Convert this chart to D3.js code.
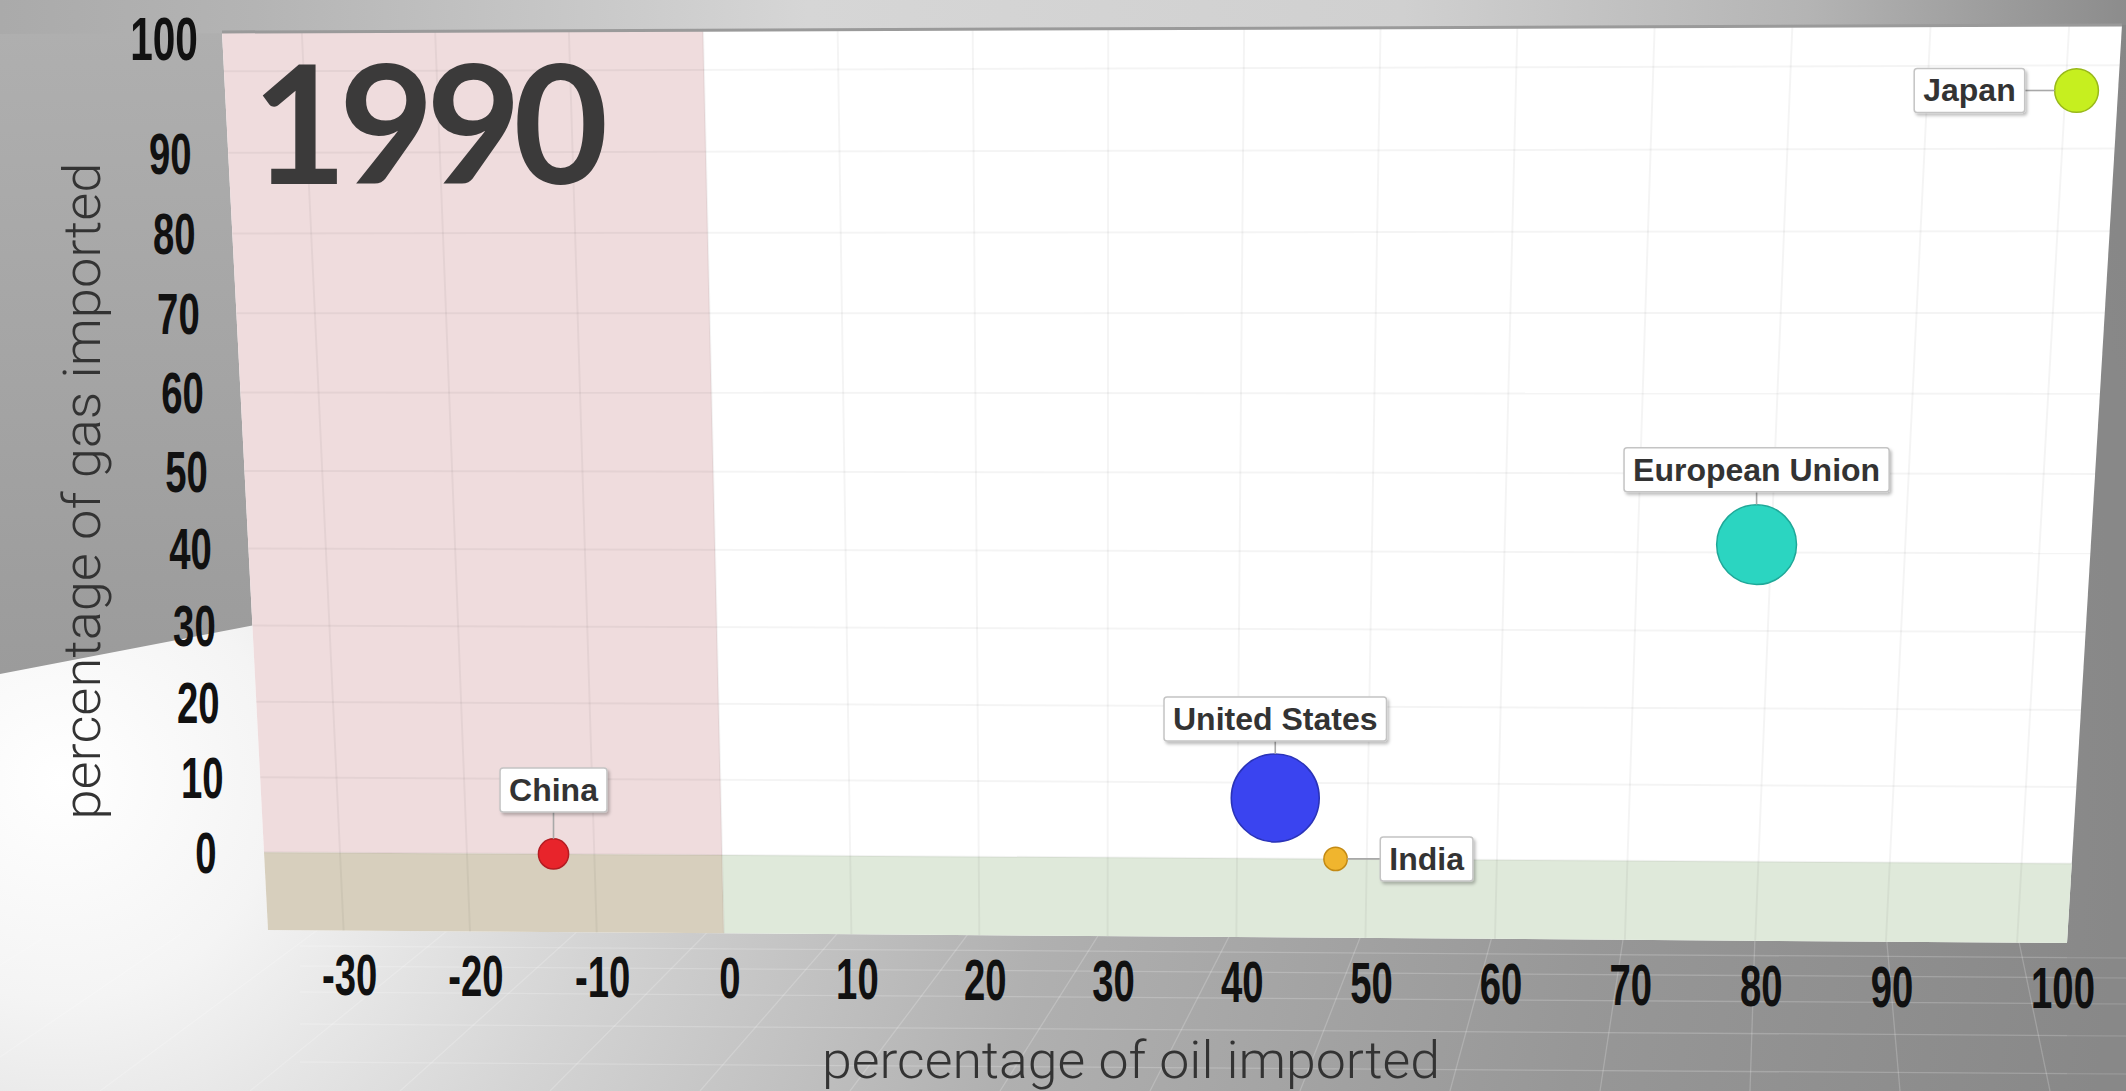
<!DOCTYPE html>
<html><head><meta charset="utf-8">
<script src="https://cdn.jsdelivr.net/npm/d3@7"></script>
<style>html,body{margin:0;padding:0;overflow:hidden;background:#a0a0a0}</style>
</head><body>
<svg id="c" width="2126" height="1091"></svg>
<script>
// ---------- data ----------
const countries   = ["China", "United States", "India", "European Union", "Japan"];
const oilImported = [-13.2, 42.9, 47.6, 78.9, 100.8];  // x: % of oil imported
const gasImported = [0, 8, 0, 41, 97];                 // y: % of gas imported
const bubbleSize  = [2.0, 17.0, 1.2, 14.0, 4.2];       // bubble size
const colors      = ["#e8242b", "#3a44f0", "#f0b52e", "#2bd5c1", "#c6ef1f"];
const strokes     = ["#b31c22", "#2a33b8", "#c38a14", "#1fa898", "#98b81a"];
const labelSide   = ["top", "top", "right", "top", "left"];
const xTicks = [-30, -20, -10, 0, 10, 20, 30, 40, 50, 60, 70, 80, 90, 100];
const yTicks = [0, 10, 20, 30, 40, 50, 60, 70, 80, 90, 100];
const yearLabel = "1990";
const xTitle = "percentage of oil imported";
const yTitle = "percentage of gas imported";

// ---------- setup ----------
const W = 2126, H = 1091;
const svg = d3.select("#c");
const defs = svg.append("defs");

const xDomain = [-36, 103.8], yDomain = [-10.5, 104.8];
const quad = [[222, 32], [2122, 25], [2067, 943], [268, 930]]; // TL TR BR BL of the tilted panel
const u = d3.scaleLinear().domain(xDomain).range([0, 1]);
const v = d3.scaleLinear().domain(yDomain).range([1, 0]);
function homography(q) {
  const [x0, y0] = q[0], [x1, y1] = q[1], [x2, y2] = q[2], [x3, y3] = q[3];
  const dx1 = x1 - x2, dx2 = x3 - x2, dx3 = x0 - x1 + x2 - x3;
  const dy1 = y1 - y2, dy2 = y3 - y2, dy3 = y0 - y1 + y2 - y3;
  const den = dx1 * dy2 - dx2 * dy1;
  const g = (dx3 * dy2 - dx2 * dy3) / den, h = (dx1 * dy3 - dx3 * dy1) / den;
  const a = x1 - x0 + g * x1, b = x3 - x0 + h * x3, c = x0;
  const d = y1 - y0 + g * y1, e = y3 - y0 + h * y3, f = y0;
  return (s, t) => { const w = g * s + h * t + 1; return [(a * s + b * t + c) / w, (d * s + e * t + f) / w]; };
}
const Hm = homography(quad);
const P = (x, y) => Hm(u(x), v(y));
const poly = (xa, xb, ya, yb) => [P(xa, yb), P(xb, yb), P(xb, ya), P(xa, ya)].map(p => p.join(",")).join(" ");

// ---------- gradients ----------
const rad = defs.append("radialGradient").attr("id", "bgRad").attr("gradientUnits", "userSpaceOnUse")
  .attr("cx", 60).attr("cy", 780).attr("r", 2200);
[[0, "#ffffff"], [0.1, "#f4f4f4"], [0.25, "#d4d4d4"], [0.45, "#b0b0b0"], [0.7, "#979797"], [1, "#848484"]]
  .forEach(([o, c]) => rad.append("stop").attr("offset", o).attr("stop-color", c));
const lg = defs.append("linearGradient").attr("id", "leftG").attr("x1", 0).attr("y1", 0).attr("x2", 0).attr("y2", 1);
[[0, "#b0b0b0"], [1, "#9b9b9b"]].forEach(([o, c]) => lg.append("stop").attr("offset", o).attr("stop-color", c));
const tg = defs.append("linearGradient").attr("id", "topG").attr("x1", 0).attr("y1", 0).attr("x2", 1).attr("y2", 0);
[[0, "#aaaaaa"], [0.12, "#b4b4b4"], [0.38, "#d6d6d6"], [0.66, "#d0d0d0"], [0.85, "#b4b4b4"], [1, "#8c8c8c"]]
  .forEach(([o, c]) => tg.append("stop").attr("offset", o).attr("stop-color", c));
const sh = defs.append("filter").attr("id", "shadow").attr("x", "-20%").attr("y", "-30%").attr("width", "140%").attr("height", "170%");
sh.append("feDropShadow").attr("dx", 2).attr("dy", 2.5).attr("stdDeviation", 1.6).attr("flood-color", "#000").attr("flood-opacity", 0.25);

// ---------- background ----------
const bg = svg.append("g");
bg.append("rect").attr("width", W).attr("height", H).attr("fill", "url(#bgRad)");
defs.append("clipPath").attr("id", "floorClip").append("polygon")
  .attr("points", [[0, 940], quad[3], quad[2], [W, 900], [W, H], [0, H]].map(p => p.join(",")).join(" "));
const floor = bg.append("g").attr("clip-path", "url(#floorClip)").attr("stroke", "rgba(255,255,255,0.2)").attr("stroke-width", 1.3);
const vp = [1790, -160];
d3.range(-1400, 5200, 150).forEach(bx => {
  floor.append("line").attr("x1", vp[0]).attr("y1", vp[1]).attr("x2", bx).attr("y2", H);
});
[952, 972, 998, 1030, 1068].forEach(y => {
  floor.append("line").attr("x1", 300).attr("y1", y - 6).attr("x2", W).attr("y2", y + 6);
});
bg.append("polygon").attr("points", "0,0 320,0 320,618 255,625 0,674").attr("fill", "url(#leftG)");
bg.append("polygon").attr("points", `0,0 ${W},0 ${W},25 0,34`).attr("fill", "url(#topG)");
bg.append("polygon").attr("points", `${quad[1].join(",")} ${W},25 ${W},${H} ${quad[2][0]},${H} ${quad[2].join(",")}`).attr("fill", "#8a8a8a").attr("opacity", 0.4);

// ---------- panel ----------
const panel = svg.append("g");
panel.append("polygon").attr("points", poly(xDomain[0], xDomain[1], yDomain[0], yDomain[1])).attr("fill", "#ffffff");
panel.append("polygon").attr("points", poly(xDomain[0], 0, 0, yDomain[1])).attr("fill", "#efdcdd");
panel.append("polygon").attr("points", poly(0, xDomain[1], yDomain[0], 0)).attr("fill", "#dfe9da");
panel.append("polygon").attr("points", poly(xDomain[0], 0, yDomain[0], 0)).attr("fill", "#d7cfbd");
const grid = panel.append("g").attr("stroke", "rgba(0,0,0,0.042)").attr("stroke-width", 2);
xTicks.forEach(t => {
  const a = P(t, yDomain[0]), b = P(t, yDomain[1]);
  grid.append("line").attr("x1", a[0]).attr("y1", a[1]).attr("x2", b[0]).attr("y2", b[1]);
});
yTicks.forEach(t => {
  const a = P(xDomain[0], t), b = P(xDomain[1], t);
  grid.append("line").attr("x1", a[0]).attr("y1", a[1]).attr("x2", b[0]).attr("y2", b[1]);
});
panel.append("line").attr("x1", quad[0][0]).attr("y1", quad[0][1]).attr("x2", quad[1][0]).attr("y2", quad[1][1])
  .attr("stroke", "#9a9a9a").attr("stroke-width", 3);

// year
const tl = P(xDomain[0], yDomain[1]);
panel.append("text").attr("x", tl[0] + 30).attr("y", tl[1] + 152)
  .attr("font-family", "Lato, 'Open Sans', sans-serif").attr("font-weight", 700).attr("font-size", 164)
  .attr("letter-spacing", -8).attr("fill", "#3b3a3a").text(yearLabel);

// ---------- bubbles ----------
const r = d3.scaleSqrt().domain([0, d3.max(bubbleSize)]).range([0, 44]);
const data = countries.map((name, i) => ({ name, x: oilImported[i], y: gasImported[i], s: bubbleSize[i], i }));
const marks = svg.append("g");
data.forEach(d => {
  const [cx, cy] = P(d.x, d.y);
  marks.append("circle").attr("cx", cx).attr("cy", cy).attr("r", r(d.s))
    .attr("fill", colors[d.i]).attr("stroke", strokes[d.i]).attr("stroke-width", 1.5);
});

// ---------- labels ----------
const labs = svg.append("g");
data.forEach(d => {
  const [cx, cy] = P(d.x, d.y), rr = r(d.s);
  const g = labs.append("g");
  const line = g.append("line").attr("stroke", "#a8a8a8").attr("stroke-width", 1.6);
  const box = g.append("rect").attr("rx", 3).attr("fill", "#ffffff").attr("stroke", "#c4c4c4").attr("stroke-width", 1.5).attr("filter", "url(#shadow)");
  const txt = g.append("text").attr("font-family", "'Liberation Sans', Arial, sans-serif").attr("font-weight", 700)
    .attr("font-size", 32).attr("fill", "#333").attr("text-anchor", "middle").text(d.name);
  const tw = txt.node().getComputedTextLength();
  const bw = tw + 18, bh = 44;
  let bx, by;
  const side = labelSide[d.i];
  if (side === "top") {
    const gap = Math.max(13, 42 - rr);
    bx = cx - bw / 2; by = cy - rr - gap - bh;
    line.attr("x1", cx).attr("y1", cy - rr).attr("x2", cx).attr("y2", by + bh);
  } else if (side === "right") {
    bx = cx + rr + 33; by = cy - bh / 2;
    line.attr("x1", cx + rr).attr("y1", cy).attr("x2", bx).attr("y2", cy);
  } else {
    bx = cx - rr - 30 - bw; by = cy - bh / 2;
    line.attr("x1", cx - rr).attr("y1", cy).attr("x2", bx + bw).attr("y2", cy);
  }
  box.attr("x", bx).attr("y", by).attr("width", bw).attr("height", bh);
  txt.attr("x", bx + bw / 2).attr("y", by + 33);
});

// ---------- axis tick labels (overlay style; the last label sits at the panel edge) ----------
const ticks = svg.append("g").attr("font-family", "'Liberation Sans', Arial, sans-serif").attr("font-weight", 700)
  .attr("font-size", 58).attr("fill", "#111").attr("text-anchor", "middle");
const xMaxTick = d3.max(xTicks), yMaxTick = d3.max(yTicks);
xTicks.forEach(t => {
  const edge = t === xMaxTick;
  const [px, py] = P(edge ? xDomain[1] : t, yDomain[0]);
  ticks.append("g").attr("transform", `translate(${px + (edge ? -4 : 6)},${py + 44}) scale(0.66,1)`)
    .append("text").attr("dy", "0.36em").text(t);
});
yTicks.forEach(t => {
  const edge = t === yMaxTick;
  const [px, py] = P(xDomain[0], edge ? yDomain[1] : t);
  ticks.append("g").attr("transform", `translate(${px - 58},${py + (edge ? 6 : 0)}) scale(${edge ? 0.7 : 0.66},${edge ? 1.06 : 1})`)
    .append("text").attr("dy", "0.36em").text(t);
});

// ---------- axis titles ----------
svg.append("text").attr("x", 1131).attr("y", 1078).attr("text-anchor", "middle")
  .attr("font-family", "Roboto, 'Liberation Sans', sans-serif").attr("font-weight", 300).attr("font-size", 52)
  .attr("fill", "#333").attr("textLength", 618).attr("lengthAdjust", "spacingAndGlyphs").text(xTitle);
svg.append("text").attr("transform", "translate(100,491) rotate(-90)").attr("text-anchor", "middle")
  .attr("font-family", "Roboto, 'Liberation Sans', sans-serif").attr("font-weight", 300).attr("font-size", 52)
  .attr("fill", "#333").attr("textLength", 657).attr("lengthAdjust", "spacingAndGlyphs").text(yTitle);
</script>
</body></html>
